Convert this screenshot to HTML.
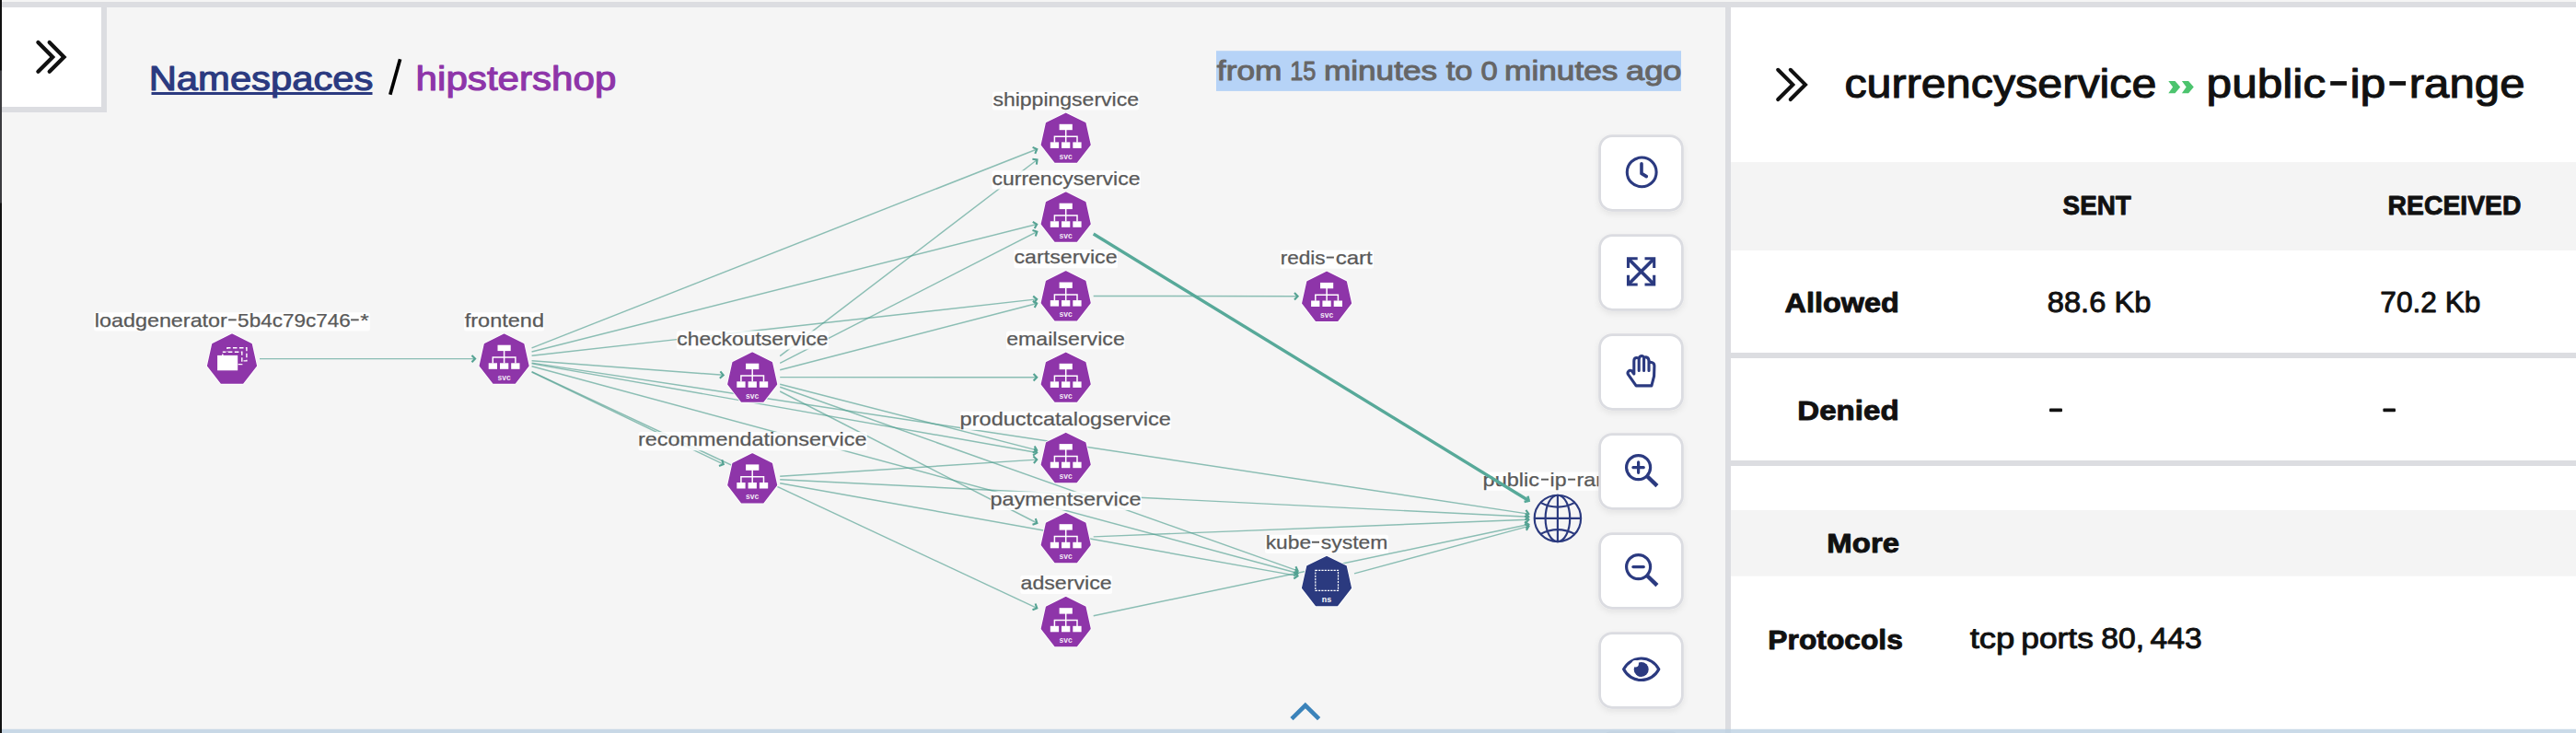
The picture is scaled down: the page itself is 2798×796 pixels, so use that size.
<!DOCTYPE html><html><head><meta charset="utf-8"><title>Network map</title>
<style>html,body{margin:0;padding:0;background:#f5f5f5;overflow:hidden}svg{display:block}text{font-family:"Liberation Sans",sans-serif}</style></head><body>
<svg width="2798" height="796" viewBox="0 0 2798 796">
<defs><clipPath id="gc"><rect x="2" y="8" width="1760" height="784"/></clipPath>
<filter id="sh" x="-20%" y="-20%" width="140%" height="150%"><feDropShadow dx="0" dy="3" stdDeviation="3" flood-color="#000" flood-opacity="0.07"/></filter></defs>
<rect width="2798" height="796" fill="#f5f5f5"/>
<g clip-path="url(#gc)">
<g>
<line x1="282.0" y1="389.6" x2="516.1" y2="389.6" stroke="#4f9e8f" stroke-width="1.45" stroke-opacity="0.64"/><polyline points="512.5,393.3 516.1,389.6 512.5,385.9" fill="none" stroke="#55a393" stroke-width="2.1" stroke-linejoin="miter"/>
<line x1="577.6" y1="377.8" x2="1126.3" y2="162.0" stroke="#4f9e8f" stroke-width="1.45" stroke-opacity="0.64"/><polyline points="1124.3,166.8 1126.3,162.0 1121.6,159.9" fill="none" stroke="#55a393" stroke-width="2.1" stroke-linejoin="miter"/>
<line x1="577.6" y1="382.0" x2="1126.2" y2="243.5" stroke="#4f9e8f" stroke-width="1.45" stroke-opacity="0.64"/><polyline points="1123.7,248.0 1126.2,243.5 1121.8,240.8" fill="none" stroke="#55a393" stroke-width="2.1" stroke-linejoin="miter"/>
<line x1="577.6" y1="386.2" x2="1126.2" y2="324.9" stroke="#4f9e8f" stroke-width="1.45" stroke-opacity="0.64"/><polyline points="1123.0,329.0 1126.2,324.9 1122.2,321.6" fill="none" stroke="#55a393" stroke-width="2.1" stroke-linejoin="miter"/>
<line x1="577.6" y1="391.8" x2="785.7" y2="407.3" stroke="#4f9e8f" stroke-width="1.45" stroke-opacity="0.64"/><polyline points="781.8,410.7 785.7,407.3 782.4,403.3" fill="none" stroke="#55a393" stroke-width="2.1" stroke-linejoin="miter"/>
<line x1="577.6" y1="394.1" x2="1660.4" y2="558.1" stroke="#4f9e8f" stroke-width="1.45" stroke-opacity="0.64"/><polyline points="1656.3,561.3 1660.4,558.1 1657.4,553.9" fill="none" stroke="#55a393" stroke-width="2.1" stroke-linejoin="miter"/>
<line x1="577.6" y1="394.9" x2="1126.2" y2="491.5" stroke="#4f9e8f" stroke-width="1.45" stroke-opacity="0.64"/><polyline points="1122.0,494.5 1126.2,491.5 1123.3,487.2" fill="none" stroke="#55a393" stroke-width="2.1" stroke-linejoin="miter"/>
<line x1="577.6" y1="397.7" x2="1409.6" y2="622.5" stroke="#4f9e8f" stroke-width="1.45" stroke-opacity="0.64"/><polyline points="1405.1,625.1 1409.6,622.5 1407.0,618.0" fill="none" stroke="#55a393" stroke-width="2.1" stroke-linejoin="miter"/>
<line x1="577.6" y1="404.0" x2="785.8" y2="504.2" stroke="#4f9e8f" stroke-width="1.45" stroke-opacity="0.64"/><polyline points="781.0,506.0 785.8,504.2 784.2,499.3" fill="none" stroke="#55a393" stroke-width="2.1" stroke-linejoin="miter"/>
<line x1="577.6" y1="403.6" x2="1126.3" y2="660.4" stroke="#4f9e8f" stroke-width="1.45" stroke-opacity="0.64"/><polyline points="1121.5,662.3 1126.3,660.4 1124.6,655.5" fill="none" stroke="#55a393" stroke-width="2.1" stroke-linejoin="miter"/>
<line x1="847.2" y1="386.7" x2="1126.5" y2="173.5" stroke="#4f9e8f" stroke-width="1.45" stroke-opacity="0.64"/><polyline points="1125.9,178.6 1126.5,173.5 1121.4,172.8" fill="none" stroke="#55a393" stroke-width="2.1" stroke-linejoin="miter"/>
<line x1="847.2" y1="394.3" x2="1126.4" y2="251.6" stroke="#4f9e8f" stroke-width="1.45" stroke-opacity="0.64"/><polyline points="1124.8,256.5 1126.4,251.6 1121.5,250.0" fill="none" stroke="#55a393" stroke-width="2.1" stroke-linejoin="miter"/>
<line x1="847.2" y1="401.8" x2="1126.2" y2="329.5" stroke="#4f9e8f" stroke-width="1.45" stroke-opacity="0.64"/><polyline points="1123.7,334.0 1126.2,329.5 1121.8,326.9" fill="none" stroke="#55a393" stroke-width="2.1" stroke-linejoin="miter"/>
<line x1="847.2" y1="409.6" x2="1126.2" y2="409.7" stroke="#4f9e8f" stroke-width="1.45" stroke-opacity="0.64"/><polyline points="1122.6,413.4 1126.2,409.7 1122.6,406.0" fill="none" stroke="#55a393" stroke-width="2.1" stroke-linejoin="miter"/>
<line x1="847.2" y1="417.3" x2="1126.2" y2="488.9" stroke="#4f9e8f" stroke-width="1.45" stroke-opacity="0.64"/><polyline points="1121.8,491.6 1126.2,488.9 1123.7,484.4" fill="none" stroke="#55a393" stroke-width="2.1" stroke-linejoin="miter"/>
<line x1="847.2" y1="420.2" x2="1409.6" y2="619.9" stroke="#4f9e8f" stroke-width="1.45" stroke-opacity="0.64"/><polyline points="1405.0,622.1 1409.6,619.9 1407.4,615.2" fill="none" stroke="#55a393" stroke-width="2.1" stroke-linejoin="miter"/>
<line x1="847.2" y1="425.0" x2="1126.4" y2="568.0" stroke="#4f9e8f" stroke-width="1.45" stroke-opacity="0.64"/><polyline points="1121.5,569.7 1126.4,568.0 1124.8,563.1" fill="none" stroke="#55a393" stroke-width="2.1" stroke-linejoin="miter"/>
<line x1="847.2" y1="517.3" x2="1126.2" y2="499.1" stroke="#4f9e8f" stroke-width="1.45" stroke-opacity="0.64"/><polyline points="1122.9,503.0 1126.2,499.1 1122.4,495.6" fill="none" stroke="#55a393" stroke-width="2.1" stroke-linejoin="miter"/>
<line x1="847.2" y1="520.8" x2="1660.4" y2="561.3" stroke="#4f9e8f" stroke-width="1.45" stroke-opacity="0.64"/><polyline points="1656.6,564.8 1660.4,561.3 1657.0,557.5" fill="none" stroke="#55a393" stroke-width="2.1" stroke-linejoin="miter"/>
<line x1="847.2" y1="524.7" x2="1409.5" y2="625.4" stroke="#4f9e8f" stroke-width="1.45" stroke-opacity="0.64"/><polyline points="1405.3,628.4 1409.5,625.4 1406.6,621.1" fill="none" stroke="#55a393" stroke-width="2.1" stroke-linejoin="miter"/>
<line x1="1187.7" y1="321.4" x2="1409.6" y2="321.8" stroke="#4f9e8f" stroke-width="1.45" stroke-opacity="0.64"/><polyline points="1406.0,325.5 1409.6,321.8 1406.0,318.1" fill="none" stroke="#55a393" stroke-width="2.1" stroke-linejoin="miter"/>
<line x1="1187.7" y1="582.9" x2="1660.4" y2="564.2" stroke="#4f9e8f" stroke-width="1.45" stroke-opacity="0.64"/><polyline points="1657.0,568.0 1660.4,564.2 1656.7,560.6" fill="none" stroke="#55a393" stroke-width="2.1" stroke-linejoin="miter"/>
<line x1="1187.7" y1="668.8" x2="1660.4" y2="569.5" stroke="#4f9e8f" stroke-width="1.45" stroke-opacity="0.64"/><polyline points="1657.7,573.9 1660.4,569.5 1656.1,566.6" fill="none" stroke="#55a393" stroke-width="2.1" stroke-linejoin="miter"/>
<line x1="1471.0" y1="622.9" x2="1660.5" y2="571.4" stroke="#4f9e8f" stroke-width="1.45" stroke-opacity="0.64"/><polyline points="1657.9,575.9 1660.5,571.4 1656.0,568.8" fill="none" stroke="#55a393" stroke-width="2.1" stroke-linejoin="miter"/>
</g>
<polygon points="252.00,363.25 273.03,373.69 278.23,397.14 263.67,415.95 240.33,415.95 225.77,397.14 230.97,373.69" fill="#fff" stroke="#fff" stroke-width="3.4" stroke-linejoin="round"/><polygon points="252.00,363.25 273.03,373.69 278.23,397.14 263.67,415.95 240.33,415.95 225.77,397.14 230.97,373.69" fill="#8e35a9" stroke="#8e35a9" stroke-width="1.6" stroke-linejoin="round"/><rect x="246.9" y="377.7" width="21" height="14.2" fill="none" stroke="#fff" stroke-width="1.4" stroke-dasharray="4.6 2.4" stroke-dashoffset="1"/><rect x="241.8" y="382.2" width="21" height="13.4" fill="#8e35a9" stroke="#fff" stroke-width="1.4" stroke-dasharray="4.6 2.4" stroke-dashoffset="1"/><rect x="236.1" y="385.9" width="22.1" height="16.4" fill="#fff"/>
<polygon points="547.60,363.25 568.63,373.69 573.83,397.14 559.27,415.95 535.93,415.95 521.37,397.14 526.57,373.69" fill="#fff" stroke="#fff" stroke-width="3.4" stroke-linejoin="round"/><polygon points="547.60,363.25 568.63,373.69 573.83,397.14 559.27,415.95 535.93,415.95 521.37,397.14 526.57,373.69" fill="#8e35a9" stroke="#8e35a9" stroke-width="1.6" stroke-linejoin="round"/><rect x="540.5" y="374.7" width="14.2" height="6.4" fill="#fff"/><rect x="530.7" y="394.3" width="9.3" height="6.5" fill="#fff"/><rect x="543.0" y="394.3" width="9.3" height="6.5" fill="#fff"/><rect x="555.2" y="394.3" width="9.3" height="6.5" fill="#fff"/><path d="M547.6 380.6V394.6M535.3 394.6V388.1H559.9V394.6" stroke="#fff" stroke-width="1.5" fill="none"/><text x="547.6" y="412.5" font-size="8.5" font-weight="bold" fill="#fff" fill-opacity="0.9" text-anchor="middle" font-family="Liberation Sans, sans-serif">svc</text>
<polygon points="817.20,383.25 838.23,393.69 843.43,417.14 828.87,435.95 805.53,435.95 790.97,417.14 796.17,393.69" fill="#fff" stroke="#fff" stroke-width="3.4" stroke-linejoin="round"/><polygon points="817.20,383.25 838.23,393.69 843.43,417.14 828.87,435.95 805.53,435.95 790.97,417.14 796.17,393.69" fill="#8e35a9" stroke="#8e35a9" stroke-width="1.6" stroke-linejoin="round"/><rect x="810.1" y="394.7" width="14.2" height="6.4" fill="#fff"/><rect x="800.3" y="414.3" width="9.3" height="6.5" fill="#fff"/><rect x="812.6" y="414.3" width="9.3" height="6.5" fill="#fff"/><rect x="824.9" y="414.3" width="9.3" height="6.5" fill="#fff"/><path d="M817.2 400.6V414.6M804.9 414.6V408.1H829.5V414.6" stroke="#fff" stroke-width="1.5" fill="none"/><text x="817.2" y="432.5" font-size="8.5" font-weight="bold" fill="#fff" fill-opacity="0.9" text-anchor="middle" font-family="Liberation Sans, sans-serif">svc</text>
<polygon points="817.20,492.95 838.23,503.39 843.43,526.84 828.87,545.65 805.53,545.65 790.97,526.84 796.17,503.39" fill="#fff" stroke="#fff" stroke-width="3.4" stroke-linejoin="round"/><polygon points="817.20,492.95 838.23,503.39 843.43,526.84 828.87,545.65 805.53,545.65 790.97,526.84 796.17,503.39" fill="#8e35a9" stroke="#8e35a9" stroke-width="1.6" stroke-linejoin="round"/><rect x="810.1" y="504.4" width="14.2" height="6.4" fill="#fff"/><rect x="800.3" y="524.0" width="9.3" height="6.5" fill="#fff"/><rect x="812.6" y="524.0" width="9.3" height="6.5" fill="#fff"/><rect x="824.9" y="524.0" width="9.3" height="6.5" fill="#fff"/><path d="M817.2 510.3V524.3M804.9 524.3V517.8H829.5V524.3" stroke="#fff" stroke-width="1.5" fill="none"/><text x="817.2" y="542.2" font-size="8.5" font-weight="bold" fill="#fff" fill-opacity="0.9" text-anchor="middle" font-family="Liberation Sans, sans-serif">svc</text>
<polygon points="1157.70,123.35 1178.73,133.79 1183.93,157.24 1169.37,176.05 1146.03,176.05 1131.47,157.24 1136.67,133.79" fill="#fff" stroke="#fff" stroke-width="3.4" stroke-linejoin="round"/><polygon points="1157.70,123.35 1178.73,133.79 1183.93,157.24 1169.37,176.05 1146.03,176.05 1131.47,157.24 1136.67,133.79" fill="#8e35a9" stroke="#8e35a9" stroke-width="1.6" stroke-linejoin="round"/><rect x="1150.6" y="134.8" width="14.2" height="6.4" fill="#fff"/><rect x="1140.8" y="154.4" width="9.3" height="6.5" fill="#fff"/><rect x="1153.0" y="154.4" width="9.3" height="6.5" fill="#fff"/><rect x="1165.3" y="154.4" width="9.3" height="6.5" fill="#fff"/><path d="M1157.7 140.7V154.7M1145.4 154.7V148.2H1170.0V154.7" stroke="#fff" stroke-width="1.5" fill="none"/><text x="1157.7" y="172.6" font-size="8.5" font-weight="bold" fill="#fff" fill-opacity="0.9" text-anchor="middle" font-family="Liberation Sans, sans-serif">svc</text>
<polygon points="1157.70,209.25 1178.73,219.69 1183.93,243.14 1169.37,261.95 1146.03,261.95 1131.47,243.14 1136.67,219.69" fill="#fff" stroke="#fff" stroke-width="3.4" stroke-linejoin="round"/><polygon points="1157.70,209.25 1178.73,219.69 1183.93,243.14 1169.37,261.95 1146.03,261.95 1131.47,243.14 1136.67,219.69" fill="#8e35a9" stroke="#8e35a9" stroke-width="1.6" stroke-linejoin="round"/><rect x="1150.6" y="220.7" width="14.2" height="6.4" fill="#fff"/><rect x="1140.8" y="240.3" width="9.3" height="6.5" fill="#fff"/><rect x="1153.0" y="240.3" width="9.3" height="6.5" fill="#fff"/><rect x="1165.3" y="240.3" width="9.3" height="6.5" fill="#fff"/><path d="M1157.7 226.6V240.6M1145.4 240.6V234.1H1170.0V240.6" stroke="#fff" stroke-width="1.5" fill="none"/><text x="1157.7" y="258.5" font-size="8.5" font-weight="bold" fill="#fff" fill-opacity="0.9" text-anchor="middle" font-family="Liberation Sans, sans-serif">svc</text>
<polygon points="1157.70,295.05 1178.73,305.49 1183.93,328.94 1169.37,347.75 1146.03,347.75 1131.47,328.94 1136.67,305.49" fill="#fff" stroke="#fff" stroke-width="3.4" stroke-linejoin="round"/><polygon points="1157.70,295.05 1178.73,305.49 1183.93,328.94 1169.37,347.75 1146.03,347.75 1131.47,328.94 1136.67,305.49" fill="#8e35a9" stroke="#8e35a9" stroke-width="1.6" stroke-linejoin="round"/><rect x="1150.6" y="306.5" width="14.2" height="6.4" fill="#fff"/><rect x="1140.8" y="326.1" width="9.3" height="6.5" fill="#fff"/><rect x="1153.0" y="326.1" width="9.3" height="6.5" fill="#fff"/><rect x="1165.3" y="326.1" width="9.3" height="6.5" fill="#fff"/><path d="M1157.7 312.4V326.4M1145.4 326.4V319.9H1170.0V326.4" stroke="#fff" stroke-width="1.5" fill="none"/><text x="1157.7" y="344.3" font-size="8.5" font-weight="bold" fill="#fff" fill-opacity="0.9" text-anchor="middle" font-family="Liberation Sans, sans-serif">svc</text>
<polygon points="1157.70,383.35 1178.73,393.79 1183.93,417.24 1169.37,436.05 1146.03,436.05 1131.47,417.24 1136.67,393.79" fill="#fff" stroke="#fff" stroke-width="3.4" stroke-linejoin="round"/><polygon points="1157.70,383.35 1178.73,393.79 1183.93,417.24 1169.37,436.05 1146.03,436.05 1131.47,417.24 1136.67,393.79" fill="#8e35a9" stroke="#8e35a9" stroke-width="1.6" stroke-linejoin="round"/><rect x="1150.6" y="394.8" width="14.2" height="6.4" fill="#fff"/><rect x="1140.8" y="414.4" width="9.3" height="6.5" fill="#fff"/><rect x="1153.0" y="414.4" width="9.3" height="6.5" fill="#fff"/><rect x="1165.3" y="414.4" width="9.3" height="6.5" fill="#fff"/><path d="M1157.7 400.7V414.7M1145.4 414.7V408.2H1170.0V414.7" stroke="#fff" stroke-width="1.5" fill="none"/><text x="1157.7" y="432.6" font-size="8.5" font-weight="bold" fill="#fff" fill-opacity="0.9" text-anchor="middle" font-family="Liberation Sans, sans-serif">svc</text>
<polygon points="1157.70,470.65 1178.73,481.09 1183.93,504.54 1169.37,523.35 1146.03,523.35 1131.47,504.54 1136.67,481.09" fill="#fff" stroke="#fff" stroke-width="3.4" stroke-linejoin="round"/><polygon points="1157.70,470.65 1178.73,481.09 1183.93,504.54 1169.37,523.35 1146.03,523.35 1131.47,504.54 1136.67,481.09" fill="#8e35a9" stroke="#8e35a9" stroke-width="1.6" stroke-linejoin="round"/><rect x="1150.6" y="482.1" width="14.2" height="6.4" fill="#fff"/><rect x="1140.8" y="501.7" width="9.3" height="6.5" fill="#fff"/><rect x="1153.0" y="501.7" width="9.3" height="6.5" fill="#fff"/><rect x="1165.3" y="501.7" width="9.3" height="6.5" fill="#fff"/><path d="M1157.7 488.0V502.0M1145.4 502.0V495.5H1170.0V502.0" stroke="#fff" stroke-width="1.5" fill="none"/><text x="1157.7" y="519.9" font-size="8.5" font-weight="bold" fill="#fff" fill-opacity="0.9" text-anchor="middle" font-family="Liberation Sans, sans-serif">svc</text>
<polygon points="1157.70,557.75 1178.73,568.19 1183.93,591.64 1169.37,610.45 1146.03,610.45 1131.47,591.64 1136.67,568.19" fill="#fff" stroke="#fff" stroke-width="3.4" stroke-linejoin="round"/><polygon points="1157.70,557.75 1178.73,568.19 1183.93,591.64 1169.37,610.45 1146.03,610.45 1131.47,591.64 1136.67,568.19" fill="#8e35a9" stroke="#8e35a9" stroke-width="1.6" stroke-linejoin="round"/><rect x="1150.6" y="569.2" width="14.2" height="6.4" fill="#fff"/><rect x="1140.8" y="588.8" width="9.3" height="6.5" fill="#fff"/><rect x="1153.0" y="588.8" width="9.3" height="6.5" fill="#fff"/><rect x="1165.3" y="588.8" width="9.3" height="6.5" fill="#fff"/><path d="M1157.7 575.1V589.1M1145.4 589.1V582.6H1170.0V589.1" stroke="#fff" stroke-width="1.5" fill="none"/><text x="1157.7" y="607.0" font-size="8.5" font-weight="bold" fill="#fff" fill-opacity="0.9" text-anchor="middle" font-family="Liberation Sans, sans-serif">svc</text>
<polygon points="1157.70,648.75 1178.73,659.19 1183.93,682.64 1169.37,701.45 1146.03,701.45 1131.47,682.64 1136.67,659.19" fill="#fff" stroke="#fff" stroke-width="3.4" stroke-linejoin="round"/><polygon points="1157.70,648.75 1178.73,659.19 1183.93,682.64 1169.37,701.45 1146.03,701.45 1131.47,682.64 1136.67,659.19" fill="#8e35a9" stroke="#8e35a9" stroke-width="1.6" stroke-linejoin="round"/><rect x="1150.6" y="660.2" width="14.2" height="6.4" fill="#fff"/><rect x="1140.8" y="679.8" width="9.3" height="6.5" fill="#fff"/><rect x="1153.0" y="679.8" width="9.3" height="6.5" fill="#fff"/><rect x="1165.3" y="679.8" width="9.3" height="6.5" fill="#fff"/><path d="M1157.7 666.1V680.1M1145.4 680.1V673.6H1170.0V680.1" stroke="#fff" stroke-width="1.5" fill="none"/><text x="1157.7" y="698.0" font-size="8.5" font-weight="bold" fill="#fff" fill-opacity="0.9" text-anchor="middle" font-family="Liberation Sans, sans-serif">svc</text>
<polygon points="1441.10,295.45 1462.13,305.89 1467.33,329.34 1452.77,348.15 1429.43,348.15 1414.87,329.34 1420.07,305.89" fill="#fff" stroke="#fff" stroke-width="3.4" stroke-linejoin="round"/><polygon points="1441.10,295.45 1462.13,305.89 1467.33,329.34 1452.77,348.15 1429.43,348.15 1414.87,329.34 1420.07,305.89" fill="#8e35a9" stroke="#8e35a9" stroke-width="1.6" stroke-linejoin="round"/><rect x="1434.0" y="306.9" width="14.2" height="6.4" fill="#fff"/><rect x="1424.1" y="326.5" width="9.3" height="6.5" fill="#fff"/><rect x="1436.4" y="326.5" width="9.3" height="6.5" fill="#fff"/><rect x="1448.7" y="326.5" width="9.3" height="6.5" fill="#fff"/><path d="M1441.1 312.8V326.8M1428.8 326.8V320.3H1453.4V326.8" stroke="#fff" stroke-width="1.5" fill="none"/><text x="1441.1" y="344.7" font-size="8.5" font-weight="bold" fill="#fff" fill-opacity="0.9" text-anchor="middle" font-family="Liberation Sans, sans-serif">svc</text>
<polygon points="1441.00,604.65 1462.03,615.09 1467.23,638.54 1452.67,657.35 1429.33,657.35 1414.77,638.54 1419.97,615.09" fill="#fff" stroke="#fff" stroke-width="3.4" stroke-linejoin="round"/><polygon points="1441.00,604.65 1462.03,615.09 1467.23,638.54 1452.67,657.35 1429.33,657.35 1414.77,638.54 1419.97,615.09" fill="#2b3a7f" stroke="#2b3a7f" stroke-width="1.6" stroke-linejoin="round"/><rect x="1428.8" y="619.3" width="24.7" height="22" fill="none" stroke="#fff" stroke-width="1.2" stroke-dasharray="2.2 1.1"/><text x="1441.0" y="653.6" font-size="8.8" font-weight="bold" fill="#fff" text-anchor="middle" font-family="Liberation Sans, sans-serif">ns</text>
<g fill="none" stroke="#2b3a7f" stroke-width="2.15"><circle cx="1691.9" cy="562.9" r="25.2"/><ellipse cx="1691.9" cy="562.9" rx="13.3" ry="25.2"/><path d="M1691.9 537.7V588.1M1666.7 562.9H1717.1"/><path d="M1673.4 545.9Q1691.9 555.4 1710.4 545.9"/><path d="M1673.4 579.9Q1691.9 570.4 1710.4 579.9"/></g>
<rect x="102.0" y="339.3" width="299.9" height="20.2" rx="2.5" fill="#fff" fill-opacity="0.85"/><text x="102.81" y="354.6" font-size="20.6" fill="#595959" stroke="#595959" stroke-width="0.25" textLength="144.06" lengthAdjust="spacingAndGlyphs" font-family="Liberation Sans, sans-serif">loadgenerator</text><text x="258.13" y="354.6" font-size="20.6" fill="#595959" stroke="#595959" stroke-width="0.25" textLength="122.53" lengthAdjust="spacingAndGlyphs" font-family="Liberation Sans, sans-serif">5b4c79c746</text><text x="391.26" y="354.6" font-size="20.6" fill="#595959" stroke="#595959" stroke-width="0.25" textLength="9.46" lengthAdjust="spacingAndGlyphs" font-family="Liberation Sans, sans-serif">*</text><rect x="248.1" y="346.4" width="8.6" height="1.9" fill="#595959"/><rect x="381.1" y="346.4" width="8.6" height="1.9" fill="#595959"/>
<rect x="504.0" y="339.3" width="87.0" height="20.2" rx="2.5" fill="#fff" fill-opacity="0.85"/><text x="504.77" y="354.6" font-size="20.6" fill="#595959" stroke="#595959" stroke-width="0.25" textLength="86.22" lengthAdjust="spacingAndGlyphs" font-family="Liberation Sans, sans-serif">frontend</text>
<rect x="735.0" y="359.3" width="164.9" height="20.2" rx="2.5" fill="#fff" fill-opacity="0.85"/><text x="735.21" y="374.6" font-size="20.6" fill="#595959" stroke="#595959" stroke-width="0.25" textLength="164.20" lengthAdjust="spacingAndGlyphs" font-family="Liberation Sans, sans-serif">checkoutservice</text>
<rect x="693.4" y="469.0" width="248.5" height="20.2" rx="2.5" fill="#fff" fill-opacity="0.85"/><text x="693.00" y="484.3" font-size="20.6" fill="#595959" stroke="#595959" stroke-width="0.25" textLength="248.45" lengthAdjust="spacingAndGlyphs" font-family="Liberation Sans, sans-serif">recommendationservice</text>
<rect x="1078.0" y="99.4" width="159.4" height="20.2" rx="2.5" fill="#fff" fill-opacity="0.85"/><text x="1078.43" y="114.7" font-size="20.6" fill="#595959" stroke="#595959" stroke-width="0.25" textLength="158.54" lengthAdjust="spacingAndGlyphs" font-family="Liberation Sans, sans-serif">shippingservice</text>
<rect x="1077.3" y="185.3" width="161.6" height="20.2" rx="2.5" fill="#fff" fill-opacity="0.85"/><text x="1077.51" y="200.6" font-size="20.6" fill="#595959" stroke="#595959" stroke-width="0.25" textLength="160.95" lengthAdjust="spacingAndGlyphs" font-family="Liberation Sans, sans-serif">currencyservice</text>
<rect x="1101.3" y="271.1" width="112.8" height="20.2" rx="2.5" fill="#fff" fill-opacity="0.85"/><text x="1101.50" y="286.4" font-size="20.6" fill="#595959" stroke="#595959" stroke-width="0.25" textLength="112.11" lengthAdjust="spacingAndGlyphs" font-family="Liberation Sans, sans-serif">cartservice</text>
<rect x="1093.0" y="359.4" width="129.2" height="20.2" rx="2.5" fill="#fff" fill-opacity="0.85"/><text x="1093.20" y="374.7" font-size="20.6" fill="#595959" stroke="#595959" stroke-width="0.25" textLength="128.57" lengthAdjust="spacingAndGlyphs" font-family="Liberation Sans, sans-serif">emailservice</text>
<rect x="1043.0" y="446.7" width="229.2" height="20.2" rx="2.5" fill="#fff" fill-opacity="0.85"/><text x="1042.59" y="462.0" font-size="20.6" fill="#595959" stroke="#595959" stroke-width="0.25" textLength="229.21" lengthAdjust="spacingAndGlyphs" font-family="Liberation Sans, sans-serif">productcatalogservice</text>
<rect x="1076.0" y="533.8" width="163.9" height="20.2" rx="2.5" fill="#fff" fill-opacity="0.85"/><text x="1075.60" y="549.1" font-size="20.6" fill="#595959" stroke="#595959" stroke-width="0.25" textLength="163.90" lengthAdjust="spacingAndGlyphs" font-family="Liberation Sans, sans-serif">paymentservice</text>
<rect x="1108.3" y="624.8" width="99.8" height="20.2" rx="2.5" fill="#fff" fill-opacity="0.85"/><text x="1108.50" y="640.1" font-size="20.6" fill="#595959" stroke="#595959" stroke-width="0.25" textLength="99.12" lengthAdjust="spacingAndGlyphs" font-family="Liberation Sans, sans-serif">adservice</text>
<rect x="1390.6" y="271.5" width="101.4" height="20.2" rx="2.5" fill="#fff" fill-opacity="0.85"/><text x="1390.66" y="286.8" font-size="20.6" fill="#595959" stroke="#595959" stroke-width="0.25" textLength="48.95" lengthAdjust="spacingAndGlyphs" font-family="Liberation Sans, sans-serif">redis</text><text x="1450.66" y="286.8" font-size="20.6" fill="#595959" stroke="#595959" stroke-width="0.25" textLength="40.08" lengthAdjust="spacingAndGlyphs" font-family="Liberation Sans, sans-serif">cart</text><rect x="1440.7" y="278.6" width="8.2" height="1.9" fill="#595959"/>
<rect x="1374.0" y="580.7" width="134.1" height="20.2" rx="2.5" fill="#fff" fill-opacity="0.85"/><text x="1374.75" y="596.0" font-size="20.6" fill="#595959" stroke="#595959" stroke-width="0.25" textLength="49.33" lengthAdjust="spacingAndGlyphs" font-family="Liberation Sans, sans-serif">kube</text><text x="1434.84" y="596.0" font-size="20.6" fill="#595959" stroke="#595959" stroke-width="0.25" textLength="72.56" lengthAdjust="spacingAndGlyphs" font-family="Liberation Sans, sans-serif">system</text><rect x="1424.9" y="587.8" width="8.1" height="1.9" fill="#595959"/>
<rect x="1610.3" y="512.6" width="163.6" height="20.2" rx="2.5" fill="#fff" fill-opacity="0.85"/><text x="1610.60" y="527.9" font-size="20.6" fill="#595959" stroke="#595959" stroke-width="0.25" textLength="61.31" lengthAdjust="spacingAndGlyphs" font-family="Liberation Sans, sans-serif">public</text><text x="1683.63" y="527.9" font-size="20.6" fill="#595959" stroke="#595959" stroke-width="0.25" textLength="17.95" lengthAdjust="spacingAndGlyphs" font-family="Liberation Sans, sans-serif">ip</text><text x="1712.51" y="527.9" font-size="20.6" fill="#595959" stroke="#595959" stroke-width="0.25" textLength="59.58" lengthAdjust="spacingAndGlyphs" font-family="Liberation Sans, sans-serif">range</text><rect x="1674.0" y="519.7" width="8.0" height="1.9" fill="#595959"/><rect x="1703.1" y="519.7" width="8.0" height="1.9" fill="#595959"/>
<line x1="1187.7" y1="254.0" x2="1660.6" y2="543.7" stroke="#57a999" stroke-width="3.4" stroke-opacity="1"/><polyline points="1655.6,545.0 1660.6,543.7 1659.5,538.7" fill="none" stroke="#57a999" stroke-width="2.6" stroke-linejoin="miter"/>
</g>
<rect x="0" y="0" width="2798" height="2" fill="#f5f5f5"/>
<rect x="0" y="2" width="2798" height="6" fill="#dcdde1"/>
<rect x="2" y="8" width="108" height="108" fill="#fff"/>
<rect x="110" y="8" width="6" height="114" fill="#dcdde1"/>
<rect x="2" y="116" width="114" height="6" fill="#dcdde1"/>
<path d="M41.4 46.1L57.2 61.9L41.4 77.7M53.7 46.1L69.5 61.9L53.7 77.7" fill="none" stroke="#111" stroke-width="4.3" stroke-linecap="round" stroke-linejoin="miter"/>
<text x="161.71" y="97.5" font-size="36" fill="#2b3a80" font-family="Liberation Sans, sans-serif" textLength="243.75" lengthAdjust="spacingAndGlyphs" stroke="#2b3a80" stroke-width="1.1" stroke-linejoin="round">Namespaces</text>
<rect x="164.5" y="100" width="240" height="3" fill="#2b3a80"/>
<path d="M434.6 64.2L423.8 102.8" stroke="#000" stroke-width="3.7" fill="none"/>
<text x="451.60" y="97.5" font-size="36" fill="#8e35a9" font-family="Liberation Sans, sans-serif" textLength="217.84" lengthAdjust="spacingAndGlyphs" stroke="#8e35a9" stroke-width="1.1" stroke-linejoin="round">hipstershop</text>
<rect x="1321" y="55.2" width="505" height="43.7" fill="#b6d3f7"/>
<text x="1321.87" y="86.6" font-size="30" fill="#666" font-family="Liberation Sans, sans-serif" textLength="70.52" lengthAdjust="spacingAndGlyphs" stroke="#666" stroke-width="1.0" stroke-linejoin="round">from</text>
<text x="1401.20" y="86.6" font-size="30" fill="#666" font-family="Liberation Sans, sans-serif" textLength="28.17" lengthAdjust="spacingAndGlyphs" stroke="#666" stroke-width="1.0" stroke-linejoin="round">15</text>
<text x="1438.02" y="86.6" font-size="30" fill="#666" font-family="Liberation Sans, sans-serif" textLength="122.97" lengthAdjust="spacingAndGlyphs" stroke="#666" stroke-width="1.0" stroke-linejoin="round">minutes</text>
<text x="1570.78" y="86.6" font-size="30" fill="#666" font-family="Liberation Sans, sans-serif" textLength="28.76" lengthAdjust="spacingAndGlyphs" stroke="#666" stroke-width="1.0" stroke-linejoin="round">to</text>
<text x="1608.49" y="86.6" font-size="30" fill="#666" font-family="Liberation Sans, sans-serif" textLength="18.19" lengthAdjust="spacingAndGlyphs" stroke="#666" stroke-width="1.0" stroke-linejoin="round">0</text>
<text x="1634.11" y="86.6" font-size="30" fill="#666" font-family="Liberation Sans, sans-serif" textLength="123.28" lengthAdjust="spacingAndGlyphs" stroke="#666" stroke-width="1.0" stroke-linejoin="round">minutes</text>
<text x="1765.95" y="86.6" font-size="30" fill="#666" font-family="Liberation Sans, sans-serif" textLength="60.64" lengthAdjust="spacingAndGlyphs" stroke="#666" stroke-width="1.0" stroke-linejoin="round">ago</text>
<path d="M1403 780.6L1417.8 766L1432.6 780.6" fill="none" stroke="#3b83ba" stroke-width="4.6"/>
<rect x="1737.6" y="147.6" width="89.8" height="80.7" rx="13.6" fill="#fff" stroke="#dbdce1" stroke-width="2.75" filter="url(#sh)"/>
<rect x="1737.6" y="255.6" width="89.8" height="80.7" rx="13.6" fill="#fff" stroke="#dbdce1" stroke-width="2.75" filter="url(#sh)"/>
<rect x="1737.6" y="363.6" width="89.8" height="80.7" rx="13.6" fill="#fff" stroke="#dbdce1" stroke-width="2.75" filter="url(#sh)"/>
<rect x="1737.6" y="471.6" width="89.8" height="80.7" rx="13.6" fill="#fff" stroke="#dbdce1" stroke-width="2.75" filter="url(#sh)"/>
<rect x="1737.6" y="579.6" width="89.8" height="80.7" rx="13.6" fill="#fff" stroke="#dbdce1" stroke-width="2.75" filter="url(#sh)"/>
<rect x="1737.6" y="687.6" width="89.8" height="80.7" rx="13.6" fill="#fff" stroke="#dbdce1" stroke-width="2.75" filter="url(#sh)"/>
<rect x="1737.6" y="795.6" width="89.8" height="80.7" rx="13.6" fill="#fff" stroke="#dbdce1" stroke-width="2.75" filter="url(#sh)"/>
<g fill="none" stroke="#2b3a80" stroke-linecap="round" stroke-linejoin="round"><circle cx="1783.2" cy="186.9" r="15.9" stroke-width="3.1"/><path d="M1783 177.8V188.4L1788.3 191.6" stroke-width="3.6"/></g>
<path d="M1778.7 280.8H1768.5V291.0M1778.7 309.0H1768.5V298.8M1786.5 280.8H1796.7V291.0M1786.5 309.0H1796.7V298.8" fill="none" stroke="#2b3a80" stroke-width="3.1"/>
<path d="M1769.0 281.3L1796.2 308.5M1796.2 281.3L1769.0 308.5" fill="none" stroke="#2b3a80" stroke-width="3.7"/>
<path d="M1774.8 406.0L1774.8 391.9C1774.8 387.9 1779.7 387.4 1780.2 390.3C1780.4 385.4 1785.5 385.4 1785.7 389.2C1786.2 387.0 1791.0 387.4 1791.0 392.3L1791.0 394.2C1792.1 392.7 1796.9 393.2 1796.9 397.2L1796.6 408.3L1793.9 418.9L1777.1 418.9L1768.5 406.7C1766.9 404.0 1770.0 401.2 1772.4 402.8L1774.8 406.0M1780.2 390.3L1780.2 402.5M1785.6 389.2L1785.6 402.5M1791.0 392.3L1791.0 402.5" fill="none" stroke="#2b3a80" stroke-width="3.1" stroke-linejoin="round" stroke-linecap="round"/>
<g fill="none" stroke="#2b3a80"><circle cx="1779.6" cy="507.6" r="13" stroke-width="3.2"/><path d="M1788.9 517.0L1799.9 527.6" stroke-width="4.4"/><path d="M1773.9 507.6H1785.3M1779.6 501.9V513.3" stroke-width="3.2" stroke-linecap="round"/></g>
<g fill="none" stroke="#2b3a80"><circle cx="1779.6" cy="615.6" r="13" stroke-width="3.2"/><path d="M1788.9 625.0L1799.9 635.6" stroke-width="4.4"/><path d="M1773.9 615.6H1785.3" stroke-width="3.2" stroke-linecap="round"/></g>
<path d="M1763.6 726.8A21.4 21.4 0 0 1 1801.8 726.8A21.4 21.4 0 0 1 1763.6 726.8Z" fill="none" stroke="#2b3a80" stroke-width="3.1" stroke-linejoin="round"/>
<circle cx="1782.7" cy="726.9" r="8" fill="#2b3a80"/><circle cx="1776.2" cy="720.8" r="3.8" fill="#fff"/>
<rect x="1874" y="8" width="6" height="788" fill="#dcdde1"/>
<rect x="1880" y="8" width="918" height="788" fill="#fff"/>
<rect x="1880" y="176" width="918" height="96" fill="#f4f4f4"/>
<rect x="1880" y="383" width="918" height="6" fill="#dcdde1"/>
<rect x="1880" y="500" width="918" height="6" fill="#dcdde1"/>
<rect x="1880" y="554" width="918" height="71.6" fill="#f4f4f4"/>
<path d="M1931.2 75.8L1947.3 91.9L1931.2 108M1944.8 75.8L1960.9 91.9L1944.8 108" fill="none" stroke="#111" stroke-width="4.1" stroke-linecap="round"/>
<text x="2003.41" y="106.2" font-size="44.5" fill="#111" font-family="Liberation Sans, sans-serif" textLength="339.12" lengthAdjust="spacingAndGlyphs" stroke="#111" stroke-width="1.1" stroke-linejoin="round">currencyservice</text>
<polygon points="2355.3,88 2362.5,88 2368.2,94.5 2362.5,101.2 2355.3,101.2 2360.1,94.5" fill="#4cc46e"/>
<polygon points="2369.9,88 2377.1,88 2382.8,94.5 2377.1,101.2 2369.9,101.2 2374.7,94.5" fill="#4cc46e"/>
<text x="2396.63" y="106.2" font-size="44.5" fill="#111" font-family="Liberation Sans, sans-serif" textLength="129.56" lengthAdjust="spacingAndGlyphs" stroke="#111" stroke-width="1.1" stroke-linejoin="round">public</text>
<text x="2552.50" y="106.2" font-size="44.5" fill="#111" font-family="Liberation Sans, sans-serif" textLength="38.92" lengthAdjust="spacingAndGlyphs" stroke="#111" stroke-width="1.1" stroke-linejoin="round">ip</text>
<text x="2616.75" y="106.2" font-size="44.5" fill="#111" font-family="Liberation Sans, sans-serif" textLength="125.74" lengthAdjust="spacingAndGlyphs" stroke="#111" stroke-width="1.1" stroke-linejoin="round">range</text>
<rect x="2531.2" y="88.1" width="17.7" height="4.7" fill="#111"/>
<rect x="2595.4" y="88.1" width="17.7" height="4.7" fill="#111"/>
<text x="2240.61" y="232.9" font-size="29.3" fill="#111" font-family="Liberation Sans, sans-serif" font-weight="bold" textLength="74.27" lengthAdjust="spacingAndGlyphs" stroke="#111" stroke-width="0.9" stroke-linejoin="round">SENT</text>
<text x="2593.61" y="232.9" font-size="29.3" fill="#111" font-family="Liberation Sans, sans-serif" font-weight="bold" textLength="144.85" lengthAdjust="spacingAndGlyphs" stroke="#111" stroke-width="0.9" stroke-linejoin="round">RECEIVED</text>
<text x="1938.64" y="339.2" font-size="29.3" fill="#111" font-family="Liberation Sans, sans-serif" font-weight="bold" textLength="124.27" lengthAdjust="spacingAndGlyphs" stroke="#111" stroke-width="0.9" stroke-linejoin="round">Allowed</text>
<text x="2223.78" y="338.7" font-size="31" fill="#111" font-family="Liberation Sans, sans-serif" textLength="112.65" lengthAdjust="spacingAndGlyphs" stroke="#111" stroke-width="0.9" stroke-linejoin="round">88.6 Kb</text>
<text x="2585.37" y="338.7" font-size="31" fill="#111" font-family="Liberation Sans, sans-serif" textLength="109.02" lengthAdjust="spacingAndGlyphs" stroke="#111" stroke-width="0.9" stroke-linejoin="round">70.2 Kb</text>
<text x="1952.30" y="455.7" font-size="29.3" fill="#111" font-family="Liberation Sans, sans-serif" font-weight="bold" textLength="110.37" lengthAdjust="spacingAndGlyphs" stroke="#111" stroke-width="0.9" stroke-linejoin="round">Denied</text>
<rect x="2226" y="443.4" width="14" height="3.8" rx="1" fill="#111"/>
<rect x="2588.4" y="443.4" width="13.6" height="3.8" rx="1" fill="#111"/>
<text x="1984.31" y="599.7" font-size="29.3" fill="#111" font-family="Liberation Sans, sans-serif" font-weight="bold" textLength="78.77" lengthAdjust="spacingAndGlyphs" stroke="#111" stroke-width="0.9" stroke-linejoin="round">More</text>
<text x="1920.39" y="704.7" font-size="29.3" fill="#111" font-family="Liberation Sans, sans-serif" font-weight="bold" textLength="146.50" lengthAdjust="spacingAndGlyphs" stroke="#111" stroke-width="0.9" stroke-linejoin="round">Protocols</text>
<text x="2139.70" y="704.2" font-size="31" fill="#111" font-family="Liberation Sans, sans-serif" textLength="48.77" lengthAdjust="spacingAndGlyphs" stroke="#111" stroke-width="0.9" stroke-linejoin="round">tcp</text>
<text x="2195.25" y="704.2" font-size="31" fill="#111" font-family="Liberation Sans, sans-serif" textLength="78.57" lengthAdjust="spacingAndGlyphs" stroke="#111" stroke-width="0.9" stroke-linejoin="round">ports</text>
<text x="2282.33" y="704.2" font-size="31" fill="#111" font-family="Liberation Sans, sans-serif" textLength="46.86" lengthAdjust="spacingAndGlyphs" stroke="#111" stroke-width="0.9" stroke-linejoin="round">80,</text>
<text x="2335.58" y="704.2" font-size="31" fill="#111" font-family="Liberation Sans, sans-serif" textLength="56.24" lengthAdjust="spacingAndGlyphs" stroke="#111" stroke-width="0.9" stroke-linejoin="round">443</text>
<rect x="2" y="791.8" width="2796" height="4.2" fill="#bdd1e2" fill-opacity="0.8"/>
<rect x="0" y="0" width="2" height="796" fill="#111"/>
<rect x="0" y="76.5" width="2" height="144" fill="#3b3b3f"/>
</svg></body></html>
